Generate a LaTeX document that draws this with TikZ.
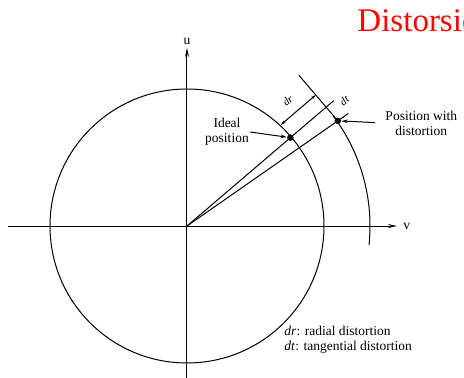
\documentclass[tikz,border=0pt]{standalone}
\usepackage{fontspec}
\setmainfont{Liberation Serif}
\usetikzlibrary{arrows.meta,calc}
\begin{document}
\begin{tikzpicture}[x=1pt,y=1pt,line width=1pt,
  lbl/.style={font=\fontsize{13.5}{15}\selectfont,align=center,inner sep=1pt},
  dot/.style={circle,fill,inner sep=0pt,minimum size=6.5pt},
  axis/.style={-{Stealth[length=9pt,width=4pt]}},
  dim/.style={{Stealth[length=5pt,width=3pt]}-{Stealth[length=5pt,width=3pt]}},
  ptr/.style={-{Stealth[length=6pt,width=3.5pt]}}]
\useasboundingbox (-187,-152) rectangle (277,226);
\clip (-187,-152) rectangle (277,226);
\coordinate (O) at (0,0);
% axes
\coordinate (vl) at (-179,0); \coordinate (vr) at (210,0);
\coordinate (ub) at (0,-152); \coordinate (ut) at (0,178);
\draw[axis] (vl) -- (vr) node[right=5pt,lbl] (vlbl) {v};
\draw[axis] (ub) -- (ut) node[above=2pt,lbl] (ulbl) {u};
% ideal and distorted radii
\draw (O) circle[radius=137];
\draw (-6:183) arc[start angle=-6,end angle=37,radius=183];
\node[dot] (ideal) at (40.5:136) {};
\coordinate (tip) at (40.5:183);
\node[dot] (dist) at ($(tip)+(-49.5:18)$) {};
\coordinate (ie) at (40.5:193);
\coordinate (de) at ($(O)!1.07!(dist)$);
\draw (O) -- (ie);
\draw (O) -- (de);
\coordinate (te) at ($(tip)+(130.5:42)$);
\draw (te) -- (dist);
% dr and dt
\coordinate (dr1) at ($(40.5:137)+(130.5:16)$);
\coordinate (dr2) at ($(tip)+(130.5:16)$);
\draw[dim] (dr1) -- (dr2);
\node[lbl,rotate=40,font=\fontsize{11}{12}\selectfont] (drlbl) at ($(40.5:158)+(130.5:30)$) {\textit{dr}};
\node[lbl,rotate=40,font=\fontsize{11}{12}\selectfont] (dtlbl) at ($(40.5:201)+(130.5:-7)$) {\textit{dt}};
% labels
\node[lbl] (ilbl) at (40,94) {Ideal\\position};
\draw[ptr] (ilbl.east) -- (ideal);
\node[lbl,anchor=west] (plbl) at (197,103) {Position with\\distortion};
\draw[ptr,shorten <=9pt] (plbl.west) -- (dist);
\node[lbl,anchor=north west,align=left] (legend) at (96,-99)
  {\textit{dr}: radial distortion\\\textit{dt}: tangential distortion};
\node[anchor=base west,text=red,inner sep=0pt,font=\fontsize{33}{34}\selectfont] (title) at (170,194) {Distorsión};
\end{tikzpicture}
\end{document}
